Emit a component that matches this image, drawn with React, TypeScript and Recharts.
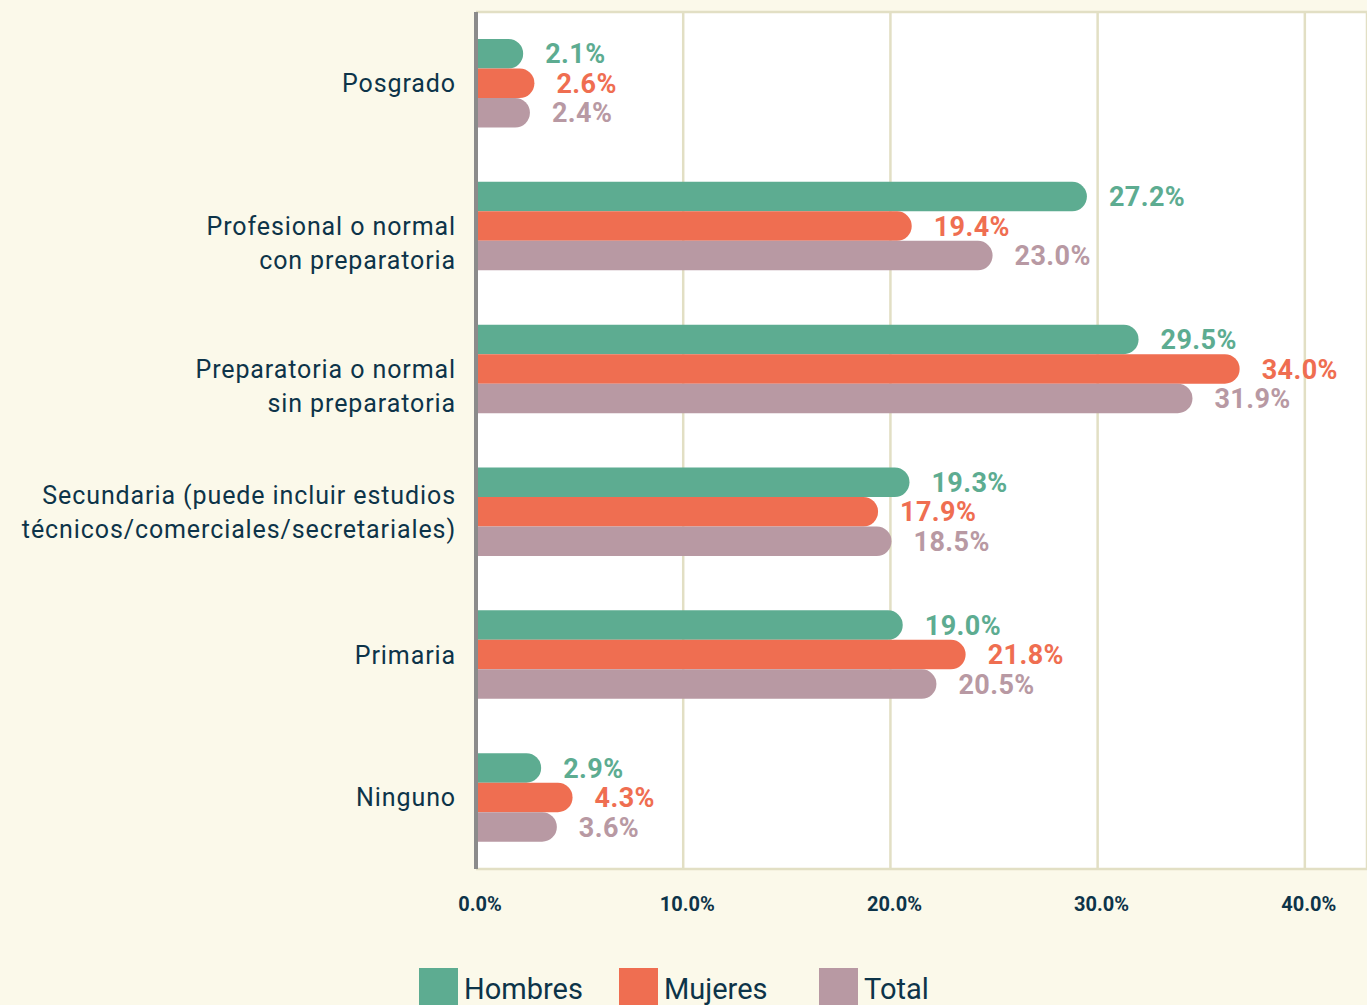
import React from "react";
import { BarChart, Bar, XAxis, YAxis, CartesianGrid, LabelList } from "recharts";

const categories = [
  "Posgrado",
  "Profesional o normal\ncon preparatoria",
  "Preparatoria o normal\nsin preparatoria",
  "Secundaria (puede incluir estudios\ntécnicos/comerciales/secretariales)",
  "Primaria",
  "Ninguno",
];
const hombres = [2.1, 27.2, 29.5, 19.3, 19.0, 2.9];
const mujeres = [2.6, 19.4, 34.0, 17.9, 21.8, 4.3];
const total = [2.4, 23.0, 31.9, 18.5, 20.5, 3.6];
const axisTicks = [0, 10, 20, 30, 40];

const series = [
  { key: "hombres", name: "Hombres", color: "#5dac91" },
  { key: "mujeres", name: "Mujeres", color: "#ef6e51" },
  { key: "total", name: "Total", color: "#b899a3" },
];

const data = categories.map((name, i) => ({
  name,
  hombres: hombres[i],
  mujeres: mujeres[i],
  total: total[i],
}));

const ink = "#0d3449";
const cream = "#fbf9ea";
const gridColor = "#e2dfc4";
const centered = new Set([categories[3]]);

function CategoryTick({ x, y, payload }: any) {
  const lines = String(payload.value).split("\n");
  const lh = 34;
  const start = centered.has(payload.value) ? -((lines.length - 1) * lh) / 2 : 0;
  return (
    <text
      x={x}
      y={y + start}
      textAnchor="end"
      fill={ink}
      fontSize={25}
      letterSpacing={0.9}
      fontFamily="Roboto, sans-serif"
    >
      {lines.map((l, i) => (
        <tspan key={i} x={x} dy={i === 0 ? "0.35em" : lh}>
          {l}
        </tspan>
      ))}
    </text>
  );
}

function ValueTick({ x, y, payload }: any) {
  return (
    <text
      x={x + 4}
      y={y}
      dy="0.35em"
      textAnchor="middle"
      fill={ink}
      fontSize={20}
      fontWeight={700}
      fontFamily="Roboto, sans-serif"
    >
      {`${Number(payload.value).toFixed(1)}%`}
    </text>
  );
}

export default function App() {
  return (
    <div
      style={{
        position: "fixed",
        top: 0,
        left: 0,
        width: 1367,
        height: 1005,
        overflow: "hidden",
        background: cream,
        fontFamily: "Roboto, sans-serif",
      }}
    >
      <BarChart
        width={1367}
        height={1005}
        data={data}
        layout="vertical"
        margin={{ top: 12, right: 0, bottom: 96, left: 0 }}
        barSize={29.5}
        barGap={0}
      >
        <CartesianGrid
          xAxisId="ticks"
          fill="#ffffff"
          stroke={gridColor}
          strokeWidth={2.5}
          horizontalCoordinatesGenerator={({ offset }: any) => [offset.top, offset.top + offset.height]}
        />
        <XAxis
          xAxisId="ticks"
          type="number"
          domain={[0, 43]}
          ticks={axisTicks}
          allowDataOverflow
          height={40}
          axisLine={false}
          tickLine={false}
          tickSize={0}
          tickMargin={5}
          tick={<ValueTick />}
        />
        <XAxis xAxisId="bars" type="number" domain={[0, 39.67]} allowDataOverflow hide />
        <YAxis
          type="category"
          dataKey="name"
          width={476}
          tick={<CategoryTick />}
          tickLine={false}
          tickMargin={14}
          axisLine={{ stroke: "#8b8b8b", strokeWidth: 4 }}
          interval={0}
        />
        {series.map((s) => (
          <Bar
            key={s.key}
            xAxisId="bars"
            dataKey={s.key}
            name={s.name}
            fill={s.color}
            radius={[0, 15, 15, 0]}
            isAnimationActive={false}
          >
            <LabelList
              dataKey={s.key}
              position="right"
              offset={22}
              fill={s.color}
              fontSize={27}
              fontWeight={700}
              letterSpacing={0.4}
              formatter={(v: number) => `${v.toFixed(1)}%`}
            />
          </Bar>
        ))}
      </BarChart>
      <div
        style={{
          position: "absolute",
          top: 968,
          left: 419,
          display: "flex",
          alignItems: "flex-start",
        }}
      >
        {series.map((s) => (
          <div key={s.key} style={{ display: "flex", alignItems: "flex-start", width: 200 }}>
            <div style={{ width: 39, height: 39, background: s.color }} />
            <span style={{ marginLeft: 6, fontSize: 29, lineHeight: "42px", color: ink }}>{s.name}</span>
          </div>
        ))}
      </div>
    </div>
  );
}
